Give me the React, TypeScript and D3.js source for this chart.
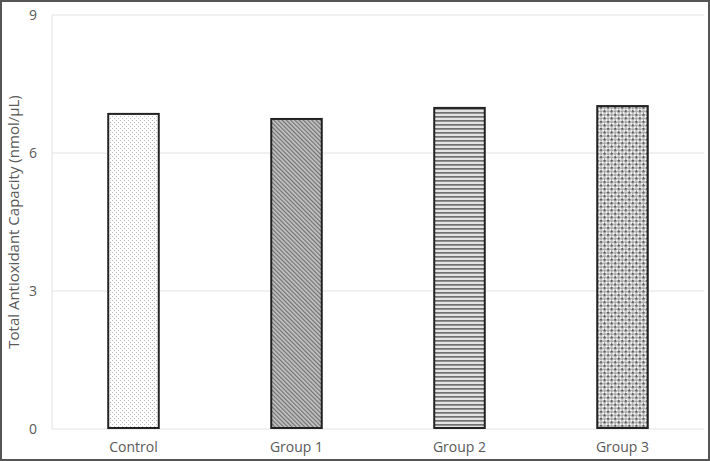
import React from "react";
import * as d3 from "d3";

const categories = ["Control", "Group 1", "Group 2", "Group 3"];
const values = [6.85, 6.74, 6.98, 7.02];
const yTicks = [0, 3, 6, 9];
const patterns = ["pDots", "pDiag", "pHoriz", "pWeave"];

const W = 710;
const H = 461;
const margin = { left: 52, right: 6, top: 15, bottom: 32 };

export default function App() {
  const x = d3
    .scaleBand<string>()
    .domain(categories)
    .range([margin.left, W - margin.right])
    .paddingInner(0.69)
    .paddingOuter(0.345);
  const y = d3.scaleLinear().domain([0, 9]).range([H - margin.bottom, margin.top]);
  const font = "'Open Sans', 'Liberation Sans', sans-serif";
  const textColor = "#595959";

  return (
    <div style={{ position: "fixed", left: 0, top: 0 }}>
      <svg width={W} height={H} style={{ display: "block", background: "#fff" }}>
        <defs>
          <pattern id="pDots" width="4" height="4" patternUnits="userSpaceOnUse">
            <rect width="4" height="4" fill="#fff" />
            <rect x="0" y="0" width="1" height="1" fill="#b8b8b8" />
            <rect x="2" y="2" width="1" height="1" fill="#b8b8b8" />
          </pattern>
          <pattern id="pDiag" width="3" height="3" patternUnits="userSpaceOnUse" patternTransform="rotate(-45)">
            <rect width="3" height="3" fill="#c4c4c4" />
            <rect x="0" y="0" width="1.2" height="3" fill="#707070" />
          </pattern>
          <pattern id="pHoriz" width="4" height="4" patternUnits="userSpaceOnUse">
            <rect width="4" height="4" fill="#e4e4e4" />
            <rect x="0" y="0" width="4" height="1.7" fill="#707070" />
          </pattern>
          <pattern id="pWeave" width="5" height="5" patternUnits="userSpaceOnUse" patternTransform="rotate(45)">
            <rect width="5" height="5" fill="#f4f4f4" />
            <rect x="0" y="0" width="2.5" height="2.5" fill="#606060" />
            <rect x="2.5" y="2.5" width="2.5" height="2.5" fill="#a0a0a0" />
          </pattern>
        </defs>

        {/* gridlines */}
        {yTicks.map((t) => (
          <line
            key={t}
            x1={margin.left}
            x2={W - margin.right}
            y1={y(t)}
            y2={y(t)}
            stroke="#e2e2e2"
            strokeWidth={1}
          />
        ))}
        <line
          x1={margin.left}
          x2={margin.left}
          y1={y(9)}
          y2={y(0)}
          stroke="#e2e2e2"
          strokeWidth={1}
        />

        {/* y tick labels */}
        {yTicks.map((t) => (
          <text
            key={t}
            x={33}
            y={y(t)}
            dy="0.35em"
            textAnchor="middle"
            fontFamily={font}
            fontSize={14}
            fill={textColor}
          >
            {t}
          </text>
        ))}

        {/* bars */}
        {categories.map((c, i) => (
          <rect
            key={c}
            x={x(c)!}
            y={y(values[i])}
            width={x.bandwidth()}
            height={y(0) - y(values[i]) - 1}
            fill={`url(#${patterns[i]})`}
            stroke="#222"
            strokeWidth={2}
          />
        ))}

        {/* x labels */}
        {categories.map((c) => (
          <text
            key={c}
            x={x(c)! + x.bandwidth() / 2}
            y={452}
            textAnchor="middle"
            fontFamily={font}
            fontSize={14}
            fill={textColor}
          >
            {c}
          </text>
        ))}

        {/* y axis title */}
        <text
          transform={`translate(19, ${(y(0) + y(9)) / 2}) rotate(-90)`}
          textAnchor="middle"
          fontFamily={font}
          fontSize={15}
          fill={textColor}
        >
          Total Antioxidant Capacity (nmol/µL)
        </text>

        {/* outer border */}
        <rect x={1} y={1} width={W - 2} height={H - 2} fill="none" stroke="#555" strokeWidth={2} />
      </svg>
    </div>
  );
}
